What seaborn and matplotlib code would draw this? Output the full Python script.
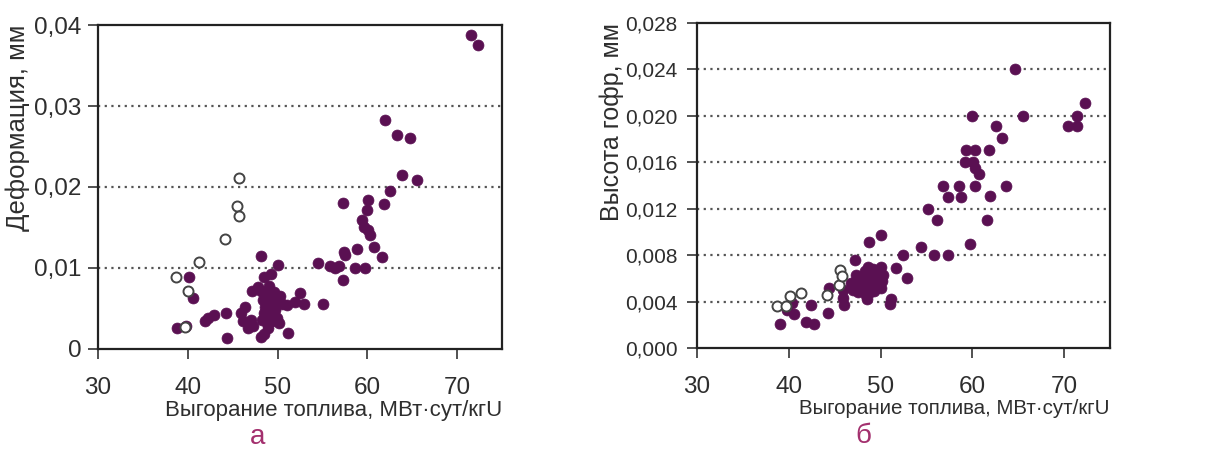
import matplotlib
matplotlib.use("Agg")
import matplotlib.pyplot as plt
from matplotlib.ticker import FixedLocator
import seaborn as sns
import pandas as pd

# --- Panel "а": deformation vs burnup ---
deform_fill_x = [71.5, 72.35, 62.0, 63.3, 64.7, 63.9, 65.5, 62.5, 61.9, 60.1, 60.0, 57.3,
                 59.4, 59.6, 60.1, 60.3, 60.7, 61.6, 58.8, 57.4, 57.5, 58.6, 59.7, 57.3,
                 54.5, 55.8, 56.4, 56.8, 55.1, 50.0, 48.2, 49.3, 48.5, 47.2, 47.8,
                 52.5, 53.0, 51.9, 51.0, 50.2, 51.2, 48.2, 48.5, 48.9, 44.4, 44.3,
                 42.9, 42.3, 41.9, 40.1, 40.6, 38.8, 39.8, 45.9, 46.1, 46.4, 46.7,
                 47.3, 47.0,
                 48.4, 48.7, 49.0, 49.3, 49.6, 49.9, 48.6, 49.0, 49.4, 49.8, 50.2,
                 48.5, 48.9, 49.2, 49.6, 48.3, 48.8, 49.4, 49.9, 49.1, 48.2, 50.3,
                 49.7, 50.5]
deform_fill_y = [0.0388, 0.0375, 0.0283, 0.0264, 0.0261, 0.0215, 0.0209, 0.0195, 0.0179,
                 0.0184, 0.0171, 0.0180, 0.0159, 0.0151, 0.0147, 0.0141, 0.0126, 0.0113,
                 0.0124, 0.0120, 0.0116, 0.0100, 0.0100, 0.0085, 0.0106, 0.0102, 0.0100,
                 0.0102, 0.0056, 0.0104, 0.0115, 0.0093, 0.0089, 0.0072, 0.0077,
                 0.0069, 0.0056, 0.0058, 0.0054, 0.0032, 0.0020, 0.0015, 0.0019, 0.0026,
                 0.0013, 0.0044, 0.0042, 0.0038, 0.0035, 0.0089, 0.0063, 0.0026, 0.0028,
                 0.0044, 0.0034, 0.0052, 0.0026, 0.0028, 0.0036,
                 0.0060, 0.0068, 0.0072, 0.0065, 0.0070, 0.0062, 0.0052, 0.0055, 0.0050,
                 0.0057, 0.0060, 0.0044, 0.0040, 0.0045, 0.0042, 0.0036, 0.0032, 0.0034,
                 0.0038, 0.0078, 0.0072, 0.0065, 0.0048, 0.0055]
deform_open_x = [45.7, 45.5, 45.7, 44.1, 41.3, 38.7, 40.0, 39.7]
deform_open_y = [0.0211, 0.0176, 0.0164, 0.0136, 0.0108, 0.0089, 0.0072, 0.0027]

# --- Panel "б": corrugation height vs burnup ---
corr_fill_x = [64.7, 60.0, 65.5, 72.3, 71.4, 70.4, 71.4, 62.6, 63.2, 61.8, 59.3, 60.3,
               59.2, 60.1, 60.3, 60.7, 60.3, 63.7, 56.8, 58.6, 57.4, 58.8, 61.9, 55.2,
               56.2, 61.6, 59.7, 54.4, 55.8, 57.3, 50.0, 48.7, 52.4, 51.7, 52.9, 51.1,
               51.0, 47.2, 39.0, 40.6, 39.8, 40.4, 41.9, 42.8, 42.4, 44.3, 44.4, 46.0,
               45.9, 45.9, 48.5, 47.0,
               47.3, 47.6, 48.0, 48.3, 48.6, 48.9, 49.2, 49.5, 49.8, 50.1, 50.3, 47.9,
               48.3, 48.7, 49.1, 49.4, 49.8, 50.2, 48.4, 48.9, 49.3, 47.5, 50.0, 46.8]
corr_fill_y = [0.0240, 0.0200, 0.0200, 0.0211, 0.0200, 0.0191, 0.0191, 0.0191, 0.0181,
               0.0171, 0.0171, 0.0171, 0.0160, 0.0160, 0.0155, 0.0150, 0.0140, 0.0140,
               0.0140, 0.0140, 0.0130, 0.0130, 0.0131, 0.0120, 0.0110, 0.0110, 0.0090,
               0.0087, 0.0080, 0.0080, 0.0097, 0.0091, 0.0080, 0.0069, 0.0060, 0.0042,
               0.0038, 0.0076, 0.0021, 0.0029, 0.0033, 0.0039, 0.0022, 0.0021, 0.0037,
               0.0030, 0.0052, 0.0037, 0.0050, 0.0043, 0.0042, 0.0050,
               0.0063, 0.0058, 0.0061, 0.0066, 0.0070, 0.0064, 0.0068, 0.0061, 0.0066,
               0.0070, 0.0063, 0.0052, 0.0055, 0.0058, 0.0053, 0.0057, 0.0055, 0.0058,
               0.0046, 0.0048, 0.0049, 0.0048, 0.0052, 0.0056]
corr_open_x = [38.7, 39.7, 40.1, 41.3, 44.2, 45.5, 45.6, 45.8]
corr_open_y = [0.0036, 0.0036, 0.0045, 0.0047, 0.0046, 0.0054, 0.0067, 0.0062]

x_ticks = [30, 40, 50, 60, 70]
deform_ticks = [0, 0.01, 0.02, 0.03, 0.04]
deform_labels = ["0", "0,01", "0,02", "0,03", "0,04"]
corr_ticks = [0.000, 0.004, 0.008, 0.012, 0.016, 0.020, 0.024, 0.028]
corr_labels = ["0,000", "0,004", "0,008", "0,012", "0,016", "0,020", "0,024", "0,028"]

x_label = "Выгорание топлива, МВт·сут/кгU"
deform_ylabel = "Деформация, мм"
corr_ylabel = "Высота гофр, мм"
panel_letters = ["а", "б"]

FILL = "#5a1052"
TEXT = "#2e2e2e"

sns.set_theme(style="white")
plt.rcParams["font.family"] = ["Liberation Sans", "DejaVu Sans"]

fig = plt.figure(figsize=(12.22, 4.53), dpi=100)
ax_a = fig.add_axes([0.0802, 0.2296, 0.3306, 0.7152])
ax_b = fig.add_axes([0.5704, 0.2318, 0.3379, 0.7174])


def draw_panel(ax, fx, fy, ox, oy, yticks, ylabels, ylabel, ymax,
               ytick_size, ypad, xlabel_size, ylabel_size, ylabel_x):
    sns.scatterplot(data=pd.DataFrame({"x": fx, "y": fy}), x="x", y="y", ax=ax,
                    color=FILL, s=62, edgecolor=FILL, linewidth=0.5, zorder=3)
    sns.scatterplot(data=pd.DataFrame({"x": ox, "y": oy}), x="x", y="y", ax=ax,
                    facecolor="white", s=52, edgecolor="#444444", linewidth=1.4, zorder=4)
    ax.set_xlim(30, 75)
    ax.set_ylim(0, ymax)
    ax.xaxis.set_major_locator(FixedLocator(x_ticks))
    ax.yaxis.set_major_locator(FixedLocator(yticks))
    ax.set_yticklabels(ylabels)
    for t in yticks[1:-1]:
        ax.axhline(t, color="#555555", linestyle=(0, (1, 2)), linewidth=1.6, zorder=1)
    for sp in ax.spines.values():
        sp.set_visible(True)
        sp.set_color("#222222")
        sp.set_linewidth(1.6)
    ax.tick_params(axis="both", direction="out", length=7, width=1.2, color="#333333",
                   labelcolor=TEXT, left=True, bottom=True)
    ax.tick_params(axis="y", labelsize=ytick_size, pad=ypad)
    ax.tick_params(axis="x", labelsize=17.5, pad=13)
    ax.set_xlabel(x_label, fontsize=xlabel_size, color=TEXT, loc="right", labelpad=1)
    ax.set_ylabel(ylabel, fontsize=ylabel_size, color=TEXT, loc="top")
    ax.yaxis.set_label_coords(ylabel_x, 1.0)


draw_panel(ax_a, deform_fill_x, deform_fill_y, deform_open_x, deform_open_y,
           deform_ticks, deform_labels, deform_ylabel, 0.04,
           ytick_size=17.5, ypad=5, xlabel_size=16, ylabel_size=18.5, ylabel_x=-0.168)
draw_panel(ax_b, corr_fill_x, corr_fill_y, corr_open_x, corr_open_y,
           corr_ticks, corr_labels, corr_ylabel, 0.028,
           ytick_size=15, ypad=7, xlabel_size=14.8, ylabel_size=18, ylabel_x=-0.176)

fig.text(258 / 1222, 1 - 437 / 453, panel_letters[0], fontsize=20, color="#a3306e",
         ha="center", va="center")
fig.text(863 / 1222, 1 - 436 / 453, panel_letters[1], fontsize=20, color="#a3306e",
         ha="center", va="center")

fig.savefig("out.png", dpi=100)
